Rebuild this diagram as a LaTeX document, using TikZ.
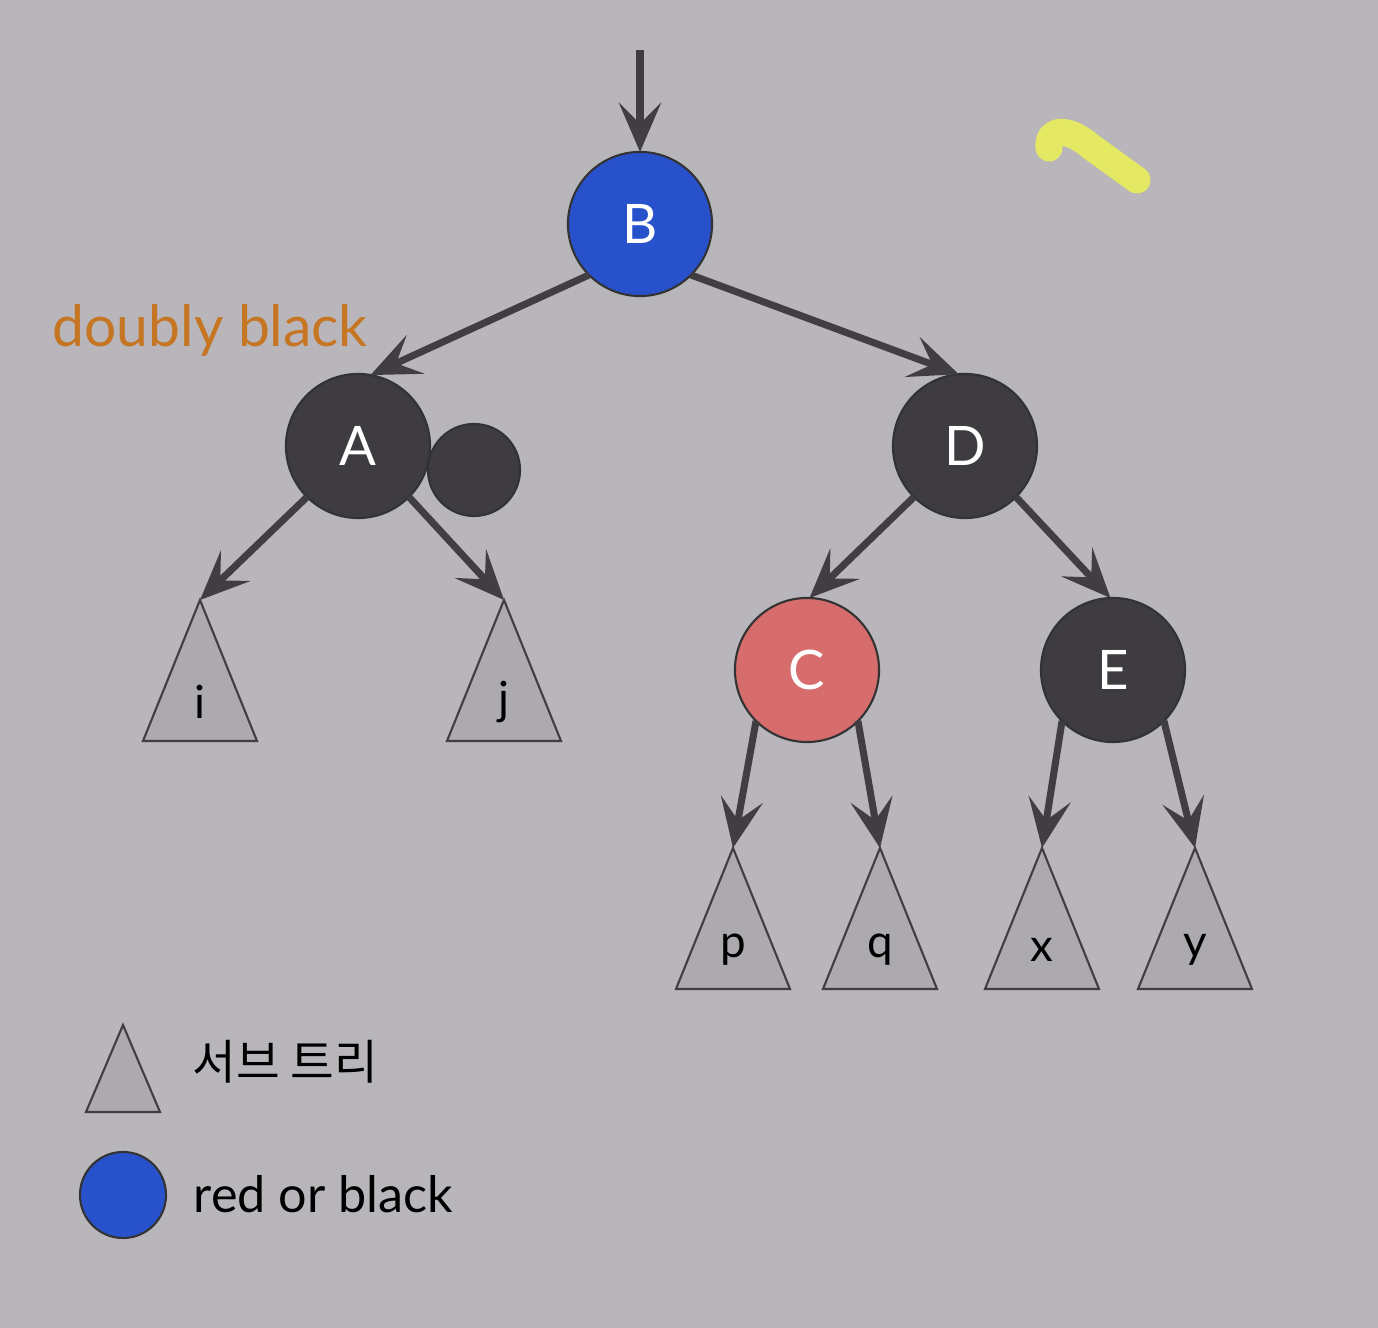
\documentclass[tikz,border=0pt]{standalone}
\usepackage{fontspec}
\setmainfont{Lato}
\newfontfamily\kofont{Noto Sans CJK KR}
\usepackage{tikz}
\usetikzlibrary{arrows.meta, positioning}
\definecolor{bggray}{RGB}{184,182,186}
\definecolor{nodegray}{RGB}{62,60,64}
\definecolor{edgegray}{RGB}{64,62,66}
\definecolor{trigray}{RGB}{172,170,174}
\definecolor{rbblue}{RGB}{40,82,204}
\definecolor{rbred}{RGB}{214,108,108}
\definecolor{dborange}{RGB}{198,118,34}
\definecolor{hiyellow}{RGB}{228,232,98}
\tikzset{
    rbnode/.style={circle, minimum size=1.44cm, inner sep=0pt, outer sep=0pt,
                   draw=black!80, line width=0.6pt, text=white,
                   font=\fontsize{15.5}{18}\selectfont},
    blknode/.style={rbnode, fill=nodegray},
    bluenode/.style={rbnode, fill=rbblue},
    rednode/.style={rbnode, fill=rbred},
    arrow/.style={-{Stealth[length=14pt, width=12pt, inset=6pt]},
                  line width=2pt, draw=edgegray},
    subtree/.style={draw=edgegray, line width=0.6pt, fill=trigray},
    leaflbl/.style={font=\fontsize{13}{15}\selectfont, text=black},
    legendtxt/.style={font=\fontsize{14.3}{16}\selectfont, text=black, inner sep=0pt},
    hilite/.style={draw=hiyellow, line width=0.27cm, line cap=round, line join=round},
}
\begin{document}
\begin{tikzpicture}[x=0.01cm, y=-0.01cm]
    \useasboundingbox (0,0) rectangle (1378,1328);
    \fill[bggray] (0,0) rectangle (1378,1328);

    % tree nodes
    \node[bluenode] (B) at (640,224) {B};
    \node[blknode]  (A) at (358,446) {A};
    \node[blknode, minimum size=0.92cm] (extra) at (474,470) {};
    \node[blknode]  (D) at (965,446) {D};
    \node[rednode]  (C) at (807,670) {C};
    \node[blknode]  (E) at (1113,670) {E};
    \node[text=dborange, font=\fontsize{16.2}{18}\selectfont, inner sep=0pt, anchor=base west]
        (dbl) at (52,347) {doubly black};

    % subtrees, apex is the named coordinate
    \foreach \n/\x/\y in {i/200/600, j/504/600, p/733/848, q/880/848, x/1042/848, y/1195/848} {
        \coordinate (\n) at (\x,\y);
        \draw[subtree] (\n) -- ++(-57,141) -- ++(114,0) -- cycle;
        \node[leaflbl] (\n-lbl) at (\x,{\y+102}) {\n};
    }

    % connectors
    \coordinate (top) at (640,50);
    \draw[arrow] (top) -- (B.north);
    \draw[arrow] (B.south west) -- (A.80);
    \draw[arrow] (B.south east) -- (D.95);
    \draw[arrow] (A.south west) -- (i);
    \draw[arrow] (A.south east) -- (j);
    \draw[arrow] (D.south west) -- (C.88);
    \draw[arrow] (D.south east) -- (E.92);
    \draw[arrow] (C.south west) -- (p);
    \draw[arrow] (C.south east) -- (q);
    \draw[arrow] (E.south west) -- (x);
    \draw[arrow] (E.south east) -- (y);

    % highlighter mark
    \draw[hilite] (1049,148) .. controls (1047,128) and (1068,127) .. (1090,146) -- (1137,180);

    % legend
    \coordinate (legtri) at (123,1025);
    \draw[subtree] (legtri) -- ++(-37,87) -- ++(74,0) -- cycle;
    \node[legendtxt, anchor=west] (legtri-txt) at (192,1062) {\kofont\fontsize{13.5}{15}\selectfont 서브 트리};
    \node[bluenode, minimum size=0.86cm] (legcirc) at (123,1195) {};
    \node[legendtxt, anchor=base west] (legcirc-txt) at (193,1213) {red or black};
\end{tikzpicture}
\end{document}
